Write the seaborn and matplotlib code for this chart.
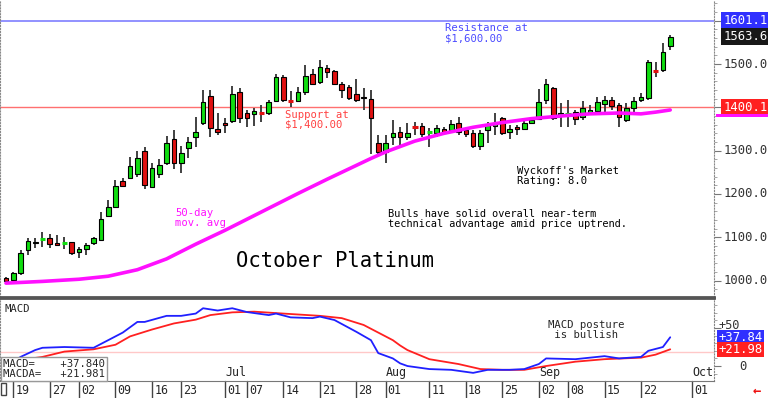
import numpy as np
import pandas as pd
import matplotlib
matplotlib.use('Agg')
import matplotlib.pyplot as plt
import matplotlib.transforms as mtransforms
from matplotlib.patches import Rectangle
from matplotlib.ticker import MultipleLocator
import seaborn as sns

# daily candles, trading-day index 0 = 2025-05-16
opens = [1006, 1002, 1018, 1071, 1086, 1094, 1099, 1086, 1086, 1088,
         1065, 1073, 1086, 1094, 1149, 1171, 1231, 1236, 1246, 1300,
         1215, 1246, 1271, 1327, 1271, 1305, 1332, 1363, 1426, 1349,
         1365, 1369, 1436, 1386, 1384, 1389, 1388, 1415, 1471, 1416,
         1415, 1436, 1478, 1458, 1491, 1484, 1455, 1448, 1432, 1425,
         1419, 1317, 1296, 1331, 1342, 1331, 1356, 1358, 1341, 1340,
         1350, 1348, 1363, 1348, 1341, 1311, 1347, 1358, 1375, 1342,
         1355, 1349, 1364, 1372, 1418, 1444, 1382, 1384, 1390, 1377,
         1390, 1392, 1408, 1417, 1405, 1371, 1398, 1418, 1421, 1485,
         1486, 1541]
highs = [1008, 1019, 1071, 1098, 1098, 1112, 1107, 1105, 1101, 1090,
         1078, 1086, 1100, 1159, 1186, 1232, 1236, 1285, 1300, 1308,
         1272, 1280, 1334, 1348, 1311, 1332, 1378, 1440, 1440, 1386,
         1375, 1449, 1444, 1394, 1398, 1405, 1417, 1476, 1475, 1438,
         1448, 1498, 1488, 1509, 1498, 1486, 1458, 1451, 1465, 1444,
         1440, 1336, 1336, 1371, 1355, 1363, 1367, 1363, 1352, 1359,
         1355, 1371, 1378, 1350, 1348, 1348, 1367, 1386, 1378, 1359,
         1359, 1375, 1375, 1442, 1465, 1446, 1409, 1417, 1395, 1414,
         1405, 1423, 1426, 1424, 1411, 1411, 1424, 1434, 1509, 1505,
         1548, 1567]
lows = [998, 998, 1013, 1058, 1075, 1078, 1075, 1080, 1072, 1059,
        1052, 1059, 1082, 1092, 1146, 1169, 1215, 1234, 1238, 1211,
        1214, 1236, 1267, 1257, 1248, 1282, 1309, 1359, 1332, 1336,
        1340, 1363, 1363, 1355, 1358, 1367, 1382, 1413, 1413, 1401,
        1413, 1428, 1453, 1455, 1467, 1451, 1421, 1417, 1413, 1394,
        1292, 1290, 1271, 1313, 1311, 1325, 1336, 1332, 1309, 1332,
        1336, 1340, 1336, 1332, 1305, 1301, 1317, 1336, 1336, 1328,
        1336, 1348, 1363, 1370, 1408, 1371, 1355, 1355, 1359, 1371,
        1382, 1390, 1390, 1394, 1355, 1367, 1386, 1413, 1417, 1471,
        1482, 1532]
closes = [1000, 1017, 1063, 1092, 1090, 1096, 1085, 1082, 1087, 1063,
          1072, 1081, 1098, 1142, 1171, 1218, 1218, 1265, 1282, 1221,
          1259, 1267, 1317, 1271, 1295, 1321, 1342, 1413, 1352, 1344,
          1359, 1432, 1375, 1375, 1391, 1387, 1412, 1469, 1417, 1414,
          1435, 1472, 1455, 1494, 1482, 1453, 1441, 1422, 1418, 1421,
          1375, 1298, 1317, 1340, 1331, 1340, 1354, 1338, 1343, 1353,
          1341, 1362, 1344, 1338, 1311, 1341, 1359, 1365, 1340, 1351,
          1349, 1363, 1371, 1412, 1454, 1375, 1386, 1386, 1372, 1398,
          1394, 1413, 1418, 1403, 1377, 1398, 1415, 1424, 1505, 1483,
          1528, 1563.6]

# 50-day moving average, read at selected trading days
ma_idx = [0, 5, 10, 14, 18, 22, 26, 30, 32, 36, 40, 44, 48, 50, 52, 56,
          60, 64, 68, 72, 76, 80, 84, 87, 89, 91]
ma_val = [994, 998, 1003, 1010, 1025, 1050, 1084, 1116, 1133, 1167, 1201,
          1234, 1266, 1282, 1297, 1322, 1340, 1354, 1365, 1374, 1380, 1385,
          1387, 1385, 1389, 1394]

# MACD (blue) and MACD average (red)
macd_idx = [0, 2, 4, 5, 8, 12, 14, 16, 18, 19, 22, 24, 26, 27, 29, 31, 33,
            36, 37, 39, 42, 43, 45, 48, 50, 51, 53, 54, 55, 58, 61, 64, 66,
            69, 71, 73, 74, 78, 82, 84, 87, 88, 90, 91]
macd_val = [0, 12, 21, 24, 25, 24, 34, 44, 58, 58, 66, 66, 69, 76, 73, 76,
            71, 67, 69, 64, 63, 65, 60.5, 45, 34, 17, 10, 3.5, 0, -4, -5,
            -9, -5, -5, -4, 2.6, 10, 9, 13, 10, 12, 20, 25, 37.84]
sig_idx = [0, 2, 5, 8, 12, 15, 17, 20, 23, 26, 28, 31, 34, 38, 43, 46, 49,
           52, 53, 54, 55, 58, 62, 65, 68, 71, 74, 78, 82, 87, 89, 91]
sig_val = [4, 8, 12, 19, 22, 28, 39, 48, 56, 61, 67, 70.6, 71.5, 69, 66,
           63, 54, 39, 34, 27, 21, 9, 2.6, -4, -5, -5, 0, 5.7, 9, 11, 15,
           21.98]

tick_idx = [1, 6, 10, 15, 20, 24, 30, 33, 38, 43, 48, 52, 58, 63, 68, 73,
            77, 82, 87, 94]
tick_lab = ['19', '27', '02', '09', '16', '23', '01', '07', '14', '21', '28',
            '01', '11', '18', '25', '02', '08', '15', '22', '01']
month_idx = [30, 52, 73, 94]
month_lab = ['Jul', 'Aug', 'Sep', 'Oct']
price_ticks = [1500, 1300, 1200, 1100, 1000]

sns.set_style('white')
plt.rcParams['font.family'] = ['DejaVu Sans Mono', 'DejaVu Sans']

GREEN = '#10dd10'
RED = '#e01010'
MAG = '#ff10ff'
MONO = 'DejaVu Sans Mono'

fig = plt.figure(figsize=(7.68, 3.98), dpi=100)
ax = fig.add_axes([0.0, 0.2538, 0.9297, 0.7462])
ax2 = fig.add_axes([0.0, 0.0427, 0.9297, 0.2086])

df = pd.DataFrame({'o': opens, 'h': highs, 'l': lows, 'c': closes})
df['i'] = np.arange(len(df))

# candles
ax.vlines(df['i'], df['l'], df['h'], color='#333333', lw=1.3, zorder=2)
for _, r in df.iterrows():
    col = GREEN if r['c'] >= r['o'] else RED
    if abs(r['c'] - r['o']) < 3:
        ax.hlines((r['o'] + r['c']) / 2, r['i'] - 0.38, r['i'] + 0.38,
                  color=col, lw=2.2, zorder=3)
    else:
        ax.bar(r['i'], r['c'] - r['o'], bottom=r['o'], width=0.64,
               color=col, edgecolor='black', lw=0.8, zorder=3)

sns.lineplot(x=ma_idx, y=ma_val, ax=ax, color=MAG, lw=2.6, zorder=4)

ax.axhline(1600, color='#7f7fff', lw=1.2, zorder=1)
ax.axhline(1400, color='#ff7070', lw=1.0, zorder=1)

ax.set_xlim(-0.82, 97)
ax.set_ylim(962, 1648)
ax.set_xticks([])
ax.yaxis.tick_right()
ax.yaxis.set_major_locator(MultipleLocator(100))
ax.yaxis.set_minor_locator(MultipleLocator(20))
ax.tick_params(axis='y', which='major', length=5, color='#777777',
               labelright=False, right=True, direction='out')
ax.tick_params(axis='y', which='minor', length=2.5, color='#999999',
               right=True, direction='out')
for s in ['left', 'right']:
    ax.spines[s].set_linestyle(':')
    ax.spines[s].set_color('#888888')
ax.spines['top'].set_visible(False)
ax.spines['bottom'].set_color('#555555')
ax.spines['bottom'].set_linewidth(2)

# annotations
ax.text(60.1, 1594, 'Resistance at\n$1,600.00', color='#4b4bff', fontsize=7.6,
        va='top', ha='left', linespacing=1.0, family=MONO)
ax.text(38.2, 1394, 'Support at\n$1,400.00', color='#ff4040', fontsize=7.6,
        va='top', ha='left', linespacing=1.0, family=MONO)
ax.text(23.2, 1168, '50-day\nmov. avg', color=MAG, fontsize=7.6,
        va='top', ha='left', linespacing=1.0, family=MONO)
ax.text(70, 1264, "Wyckoff's Market\nRating: 8.0", color='black', fontsize=7.6,
        va='top', ha='left', linespacing=1.0, family=MONO)
ax.text(52.3, 1165, 'Bulls have solid overall near-term\n'
        'technical advantage amid price uptrend.', color='black',
        fontsize=7.4, va='top', ha='left', linespacing=1.0, family=MONO)
ax.text(31.5, 1045, 'October Platinum', color='black', fontsize=14.8,
        va='center', ha='left', family=MONO)

# right price labels
tr = mtransforms.blended_transform_factory(ax.transAxes, ax.transData)
for p in price_ticks:
    ax.text(1.013, p, f'{p:.1f}', transform=tr, fontsize=8.8, color='#333333',
            va='center', ha='left', family=MONO, clip_on=False)
box_labels = [(1601.1, '1601.1', '#3030ff'), (1563.6, '1563.6', '#181818'),
              (1400.1, '1400.1', '#ff2020')]
for p, s, bg in box_labels:
    ax.text(1.013, p, s, transform=tr, fontsize=8.8, color='white',
            va='center', ha='left', family=MONO, clip_on=False, zorder=6,
            bbox=dict(boxstyle='square,pad=0.18', fc=bg, ec='none'))
ax.add_patch(Rectangle((1.003, 1377), 0.075, 8, transform=tr, fc=MAG,
                       ec='none', clip_on=False, zorder=7))

# MACD panel
sns.lineplot(x=sig_idx, y=sig_val, ax=ax2, color='#ff2020', lw=1.3)
sns.lineplot(x=macd_idx, y=macd_val, ax=ax2, color='#2020ff', lw=1.3)
ax2.axhline(18, color='#ffc8c8', lw=1.0, zorder=0)
ax2.set_xlim(-0.82, 97)
ax2.set_ylim(-19.7, 89.5)
ax2.set_xticks([])
ax2.yaxis.tick_right()
ax2.yaxis.set_major_locator(MultipleLocator(50))
ax2.yaxis.set_minor_locator(MultipleLocator(10))
ax2.tick_params(axis='y', which='major', length=5, color='#777777',
                labelright=False, right=True)
ax2.tick_params(axis='y', which='minor', length=2.5, color='#999999',
                right=True)
for s in ['left', 'right']:
    ax2.spines[s].set_linestyle(':')
    ax2.spines[s].set_color('#888888')
ax2.spines['top'].set_color('#555555')
ax2.spines['top'].set_linewidth(2)
ax2.spines['bottom'].set_color('#777777')

ax2.text(0.006, 0.93, 'MACD', transform=ax2.transAxes, fontsize=7.6,
         va='top', ha='left', family=MONO)
ax2.text(74.2, 60.5, 'MACD posture\n is bullish', fontsize=7.6, va='top',
         ha='left', linespacing=1.0, family=MONO)
ax2.text(0.004, 0.02, 'MACD=    +37.840\nMACDA=   +21.981',
         transform=ax2.transAxes, fontsize=7.6, va='bottom', ha='left',
         linespacing=1.0, family=MONO, zorder=10,
         bbox=dict(boxstyle='square,pad=0.2', fc='white', ec='#999999'))

tr2 = mtransforms.blended_transform_factory(ax2.transAxes, ax2.transData)
ax2.text(1.006, 53, '+50', transform=tr2, fontsize=8.6, color='#333333',
         va='center', ha='left', family=MONO, clip_on=False)
ax2.text(1.035, 0, '0', transform=tr2, fontsize=8.8, color='#333333',
         va='center', ha='left', family=MONO, clip_on=False)
for v, s, bg in [(37.84, '+37.84', '#3030ff'), (21.98, '+21.98', '#ff2020')]:
    ax2.text(1.006, v, s, transform=tr2, fontsize=8.8, color='white',
             va='center', ha='left', family=MONO, clip_on=False,
             bbox=dict(boxstyle='square,pad=0.1', fc=bg, ec='none'))

# month and day labels
trx = mtransforms.blended_transform_factory(ax2.transData, ax2.transAxes)
for i, m in zip(month_idx, month_lab):
    ax2.text(i + 0.1, 0.02, m, transform=trx, fontsize=8.4, va='bottom',
             ha='left', family=MONO)
for i, s in zip(tick_idx, tick_lab):
    ax2.plot([i, i], [0, -0.21], transform=trx, color='#444444', lw=1,
             clip_on=False)
    ax2.text(i + 0.3, -0.11, s, transform=trx, fontsize=8.4, va='center',
             ha='left', family=MONO, clip_on=False)

fig.add_artist(Rectangle((0.001, 0.008), 0.007, 0.03, transform=fig.transFigure,
                         fc='white', ec='#444444', lw=1))
fig.text(0.985, 0.02, '\u2190', color='#ee1010', fontsize=10,
         fontweight='bold', va='center', ha='center')

fig.savefig('out.png', dpi=100)
